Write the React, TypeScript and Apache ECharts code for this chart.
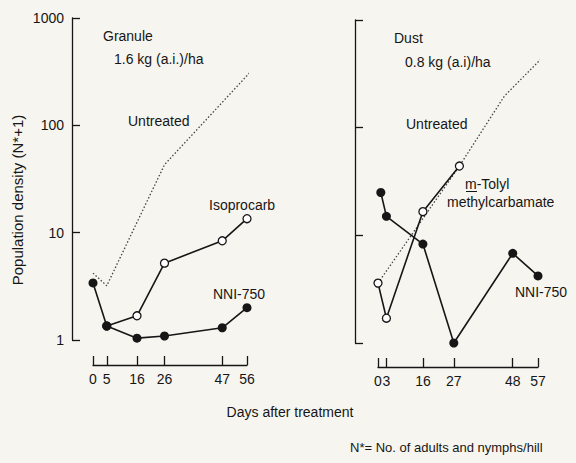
import React, { useEffect, useRef } from "react";
import * as echarts from "echarts";

// ---- Data ----
const leftDays = [0, 5, 16, 26, 47, 56];
const rightDays = [0, 3, 16, 27, 48, 57];
const yTicks = [1, 10, 100, 1000];

// Granule 1.6 kg (a.i.)/ha
const granuleUntreated: [number, number][] = [[0, 4.2], [5, 3.2], [26, 43], [58, 330]];
const granuleIsoprocarb: [number, number][] = [[5, 1.35], [16, 1.68], [26, 5.2], [47, 8.4], [56, 13.5]];
const granuleNNI: [number, number][] = [[0, 3.4], [5, 1.35], [16, 1.04], [26, 1.09], [47, 1.3], [56, 2.0]];

// Dust 0.8 kg (a.i)/ha
const dustUntreated: [number, number][] = [[0, 3.6], [29, 44], [45, 196], [59, 460]];
const dustTolyl: [number, number][] = [[0, 3.6], [3, 1.7], [16, 16.6], [29, 44]];
const dustNNI: [number, number][] = [[1, 25], [3, 15], [16, 8.3], [27, 1.0], [48, 6.8], [57, 4.2]];

const FONT = '"Liberation Sans", Arial, sans-serif';
const INK = "#161616";
const BG = "#f7f5ef";

function yAxis(gridIndex: number, offset: number, showLabels: boolean) {
  return {
    type: "log",
    logBase: 10,
    min: 1,
    max: 1000,
    gridIndex,
    position: "left",
    offset,
    axisLine: { show: true, onZero: false, lineStyle: { color: INK, width: 1.3 } },
    axisTick: { show: true, inside: true, length: 8, lineStyle: { color: INK, width: 1.3 } },
    minorTick: { show: false },
    splitLine: { show: false },
    axisLabel: {
      show: showLabels,
      color: INK,
      fontFamily: FONT,
      fontSize: 14,
      margin: 8,
      formatter: (v: number) => String(Math.round(v)),
    },
  };
}

function xAxis(gridIndex: number, max: number, ticks: number[], offset: number) {
  return {
    type: "value",
    gridIndex,
    min: 0,
    max,
    position: "bottom",
    offset,
    axisLine: { show: true, onZero: false, lineStyle: { color: INK, width: 1.3 } },
    axisTick: { show: true, inside: true, length: 9, customValues: ticks, lineStyle: { color: INK, width: 1.3 } },
    splitLine: { show: false },
    axisLabel: { color: INK, fontFamily: FONT, fontSize: 14, margin: 7, customValues: ticks },
  };
}

function openLine(data: [number, number][], xi: number, yi: number) {
  return {
    type: "line",
    xAxisIndex: xi,
    yAxisIndex: yi,
    data,
    clip: false,
    symbol: "circle",
    symbolSize: 8,
    lineStyle: { color: INK, width: 1.6 },
    itemStyle: { color: "#ffffff", borderColor: INK, borderWidth: 1.3 },
    z: 3,
  };
}

function filledLine(data: [number, number][], xi: number, yi: number) {
  return {
    type: "line",
    xAxisIndex: xi,
    yAxisIndex: yi,
    data,
    clip: false,
    symbol: "circle",
    symbolSize: 9,
    lineStyle: { color: INK, width: 1.6 },
    itemStyle: { color: INK, borderColor: INK, borderWidth: 0 },
    z: 4,
  };
}

function dottedLine(data: [number, number][], xi: number, yi: number) {
  return {
    type: "line",
    xAxisIndex: xi,
    yAxisIndex: yi,
    data,
    clip: false,
    symbol: "none",
    lineStyle: { color: "#444", width: 1.3, type: [1.5, 2] },
    z: 2,
  };
}

function txt(text: string, x: number, y: number, size = 14, align = "left") {
  return {
    type: "text",
    x,
    y,
    style: { text, fill: INK, font: `${size}px ${FONT}`, align, verticalAlign: "middle" },
  };
}

export default function App() {
  const ref = useRef<HTMLDivElement>(null);
  useEffect(() => {
    if (!ref.current) return;
    const chart = echarts.init(ref.current, null, { renderer: "svg" });
    chart.setOption({
      animation: false,
      backgroundColor: BG,
      grid: [
        { left: 93, top: 18, width: 154, height: 322 },
        { left: 378, top: 20, width: 160, height: 323 },
      ],
      xAxis: [xAxis(0, 56, leftDays, 25), xAxis(1, 57, rightDays, 24)],
      yAxis: [yAxis(0, 21, true), yAxis(1, 23, false)],
      series: [
        dottedLine(granuleUntreated, 0, 0),
        openLine(granuleIsoprocarb, 0, 0),
        filledLine(granuleNNI, 0, 0),
        dottedLine(dustUntreated, 1, 1),
        openLine(dustTolyl, 1, 1),
        filledLine(dustNNI, 1, 1),
      ],
      graphic: [
        txt("Granule", 103, 36),
        txt("1.6 kg (a.i.)/ha", 114, 59),
        txt("Untreated", 128, 121),
        txt("Isoprocarb", 209, 205),
        txt("NNI-750", 213, 294),
        txt("Dust", 394, 38),
        txt("0.8 kg (a.i)/ha", 405, 62),
        txt("Untreated", 406, 124),
        txt("m-Tolyl", 465, 184),
        txt("methylcarbamate", 447, 202),
        txt("NNI-750", 515, 292),
        {
          type: "line",
          shape: { x1: 466, y1: 191.5, x2: 477, y2: 191.5 },
          style: { stroke: INK, lineWidth: 1 },
        },
        txt("Days after treatment", 290, 412, 14, "center"),
        txt("N*= No. of adults and nymphs/hill", 350, 447, 13),
        {
          type: "text",
          x: 17,
          y: 200,
          rotation: Math.PI / 2,
          style: {
            text: "Population density (N*+1)",
            fill: INK,
            font: `15px ${FONT}`,
            align: "center",
            verticalAlign: "middle",
          },
        },
      ],
    });
    return () => chart.dispose();
  }, []);
  return (
    <div
      ref={ref}
      style={{ position: "fixed", left: 0, top: 0, width: 576, height: 463 }}
    />
  );
}
